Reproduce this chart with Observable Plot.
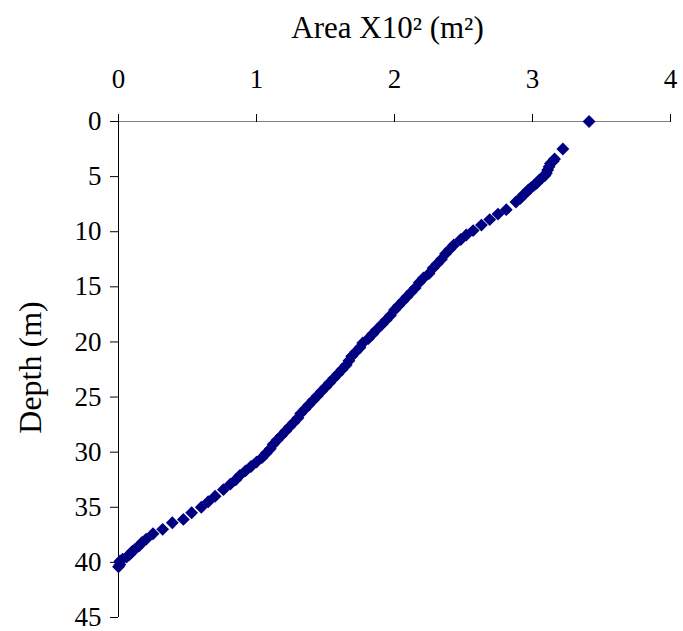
<!DOCTYPE html>
<html>
<head>
<meta charset="utf-8">
<script src="https://cdn.jsdelivr.net/npm/d3@7"></script>
<script src="https://cdn.jsdelivr.net/npm/@observablehq/plot@0.6"></script>
<style>
  html, body { margin: 0; padding: 0; background: #fff; }
  #chart svg { display: block; }
</style>
</head>
<body>
<div id="chart"></div>
<script>
// Hypsographic profile: wetted area (×10² m²) at each depth (m)
const depth = [
  0, 2.5, 3.4, 3.6, 3.8, 4.1, 4.4, 4.7, 4.9, 5.1, 5.3, 5.6, 5.8, 6.0, 6.2, 6.5, 6.7, 7.0, 7.3,
  8.0, 8.4, 8.9, 9.4, 9.9, 10.3, 10.7, 11.2, 11.6, 12.0, 12.5, 12.9, 13.3, 13.8, 14.2, 14.6,
  15.1, 15.5, 15.9, 16.3, 16.7, 17.1, 17.6, 18.0, 18.4, 18.9, 19.3, 19.7, 20.1, 20.5, 20.9,
  21.3, 21.7, 22.1, 22.5, 22.9, 23.3, 23.7, 24.1, 24.5, 24.9, 25.3, 25.7, 26.1, 26.5, 26.9,
  27.3, 27.7, 28.1, 28.5, 28.9, 29.3, 29.7, 30.1, 30.5, 30.9, 31.3, 31.7, 32.1, 32.5, 32.9,
  33.4, 34.0, 34.5, 35.0, 35.5, 36.1, 36.4, 37.0, 37.4, 37.9, 38.2, 38.5, 38.8, 39.0, 39.3,
  39.5, 39.7, 39.9, 40.2, 40.4
];
const area = [
  3.41, 3.22, 3.16, 3.15, 3.13, 3.12, 3.11, 3.10, 3.09, 3.07, 3.05, 3.03, 3.01, 2.99, 2.97, 2.95, 2.93, 2.91, 2.88,
  2.81, 2.75, 2.69, 2.63, 2.57, 2.52, 2.48, 2.43, 2.40, 2.37, 2.34, 2.31, 2.28, 2.25, 2.21, 2.18,
  2.15, 2.12, 2.09, 2.06, 2.03, 2.00, 1.97, 1.94, 1.91, 1.87, 1.84, 1.81, 1.77, 1.75, 1.72,
  1.69, 1.67, 1.65, 1.62, 1.59, 1.56, 1.53, 1.50, 1.47, 1.44, 1.41, 1.38, 1.35, 1.32, 1.30,
  1.27, 1.24, 1.21, 1.18, 1.15, 1.12, 1.10, 1.07, 1.04, 1.00, 0.96, 0.92, 0.88, 0.85, 0.81,
  0.76, 0.70, 0.65, 0.60, 0.53, 0.47, 0.39, 0.32, 0.25, 0.20, 0.17, 0.15, 0.12, 0.10, 0.08,
  0.06, 0.03, 0.01, 0.01, 0.00
];

const xTicks = [0, 1, 2, 3, 4];
const yTicks = [0, 5, 10, 15, 20, 25, 30, 35, 40, 45];
const xTitle = "Area X10² (m²)";
const yTitle = "Depth (m)";

const points = depth.map((d, i) => ({depth: d, area: area[i]}));

const chart = Plot.plot({
  width: 683,
  height: 631,
  marginLeft: 118,
  marginRight: 13,
  marginTop: 121,
  marginBottom: 14,
  style: {fontFamily: "'Liberation Serif', 'Times New Roman', serif", background: "#fff", color: "#000"},
  x: {domain: [0, 4]},
  y: {domain: [0, 45], reverse: true},
  marks: [
    // axis lines
    Plot.ruleY([0], {stroke: "#808080", strokeWidth: 1.2}),
    Plot.ruleX([0], {stroke: "#000", strokeWidth: 1}),
    Plot.axisX({anchor: "top", ticks: xTicks, tickFormat: d => d, tickSize: 8, tickPadding: 26, fontSize: 27, label: null}),
    Plot.axisY({anchor: "left", ticks: yTicks, tickFormat: d => d, tickSize: 8, tickPadding: 9, fontSize: 27, label: null}),
    // axis titles
    Plot.text([xTitle], {frameAnchor: "top", textAnchor: "middle", dx: -7, dy: -84, lineAnchor: "bottom", fontSize: 31, fill: "#000"}),
    Plot.text([yTitle], {frameAnchor: "left", textAnchor: "middle", rotate: -90, dx: -88, dy: -2, fontSize: 32, fill: "#000"}),
    // observations
    Plot.dot(points, {x: "area", y: "depth", symbol: "diamond2", r: 5.8, fill: "#000080", stroke: "none"})
  ]
});

document.getElementById("chart").appendChild(chart);
</script>
</body>
</html>
